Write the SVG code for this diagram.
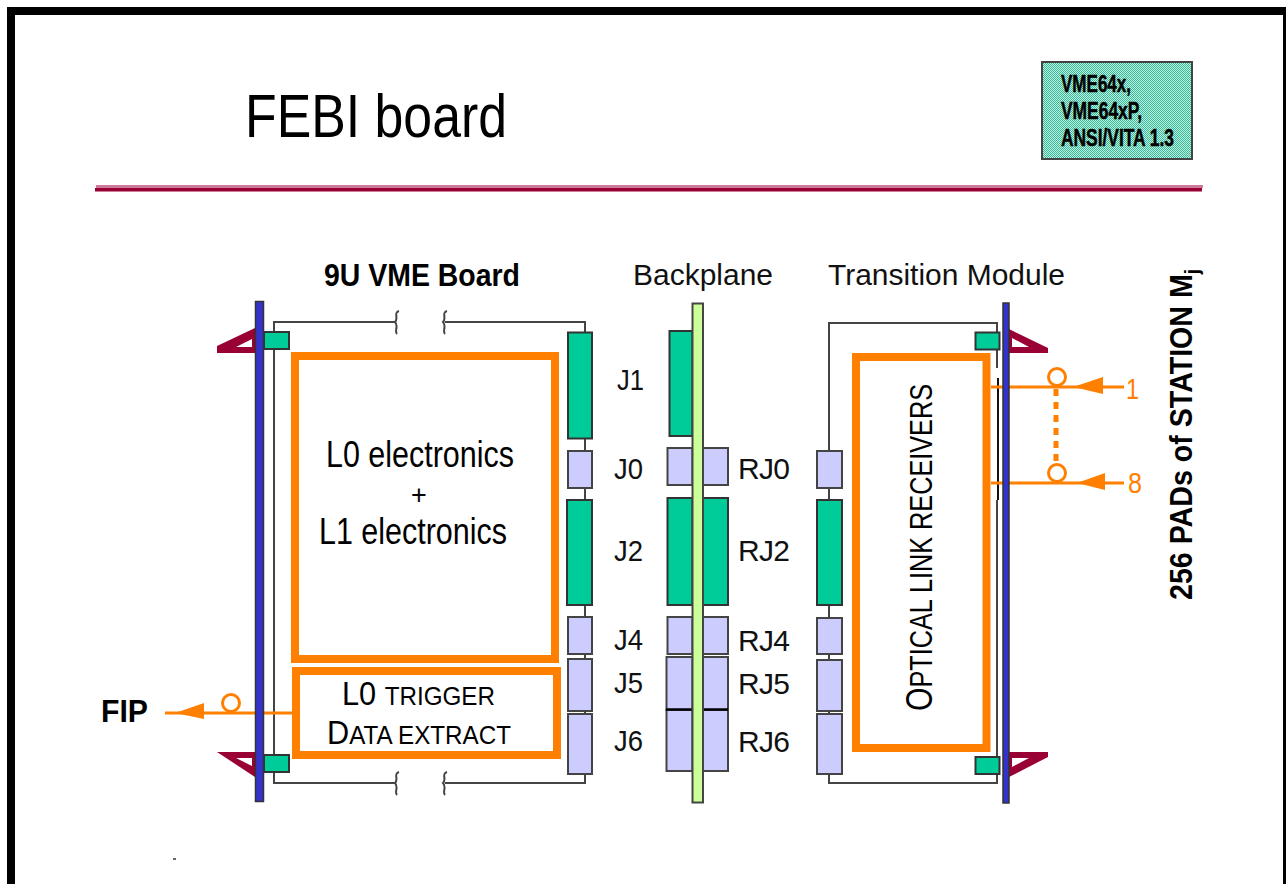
<svg xmlns="http://www.w3.org/2000/svg" width="1286" height="884" viewBox="0 0 1286 884">
<style>
.t{font-family:"Liberation Sans",Arial,sans-serif;fill:#000}
.c{fill:#00cc99;stroke:#333;stroke-width:2}
.l{fill:#ccccff;stroke:#444;stroke-width:2}
.w{fill:none;stroke:#444;stroke-width:2}
.o{fill:none;stroke:#ff8000;stroke-width:8}
.ol{fill:none;stroke:#ff8000;stroke-width:3}
.af{fill:#ff8000}
.bar{fill:#3333cc;stroke:#333;stroke-width:1.5}
.tri{fill:#990033}
.big{font-size:36px}
.cl{font-size:30px;fill:#111}
.h{font-size:29px}
.b{font-weight:bold}
.hv{stroke:#000;stroke-width:.5}
</style>
<defs>
<pattern id="hatch" width="2" height="2" patternUnits="userSpaceOnUse"><rect width="2" height="2" fill="#c4eee2"/><rect width="1" height="1" fill="#33bb99"/><rect x="1" y="1" width="1" height="1" fill="#33bb99"/></pattern>
</defs>
<rect width="1286" height="884" fill="#fff"/>
<g id="frame"><path d="M11 884V11H1286" fill="none" stroke="#000" stroke-width="8"/><rect x="1283" y="11" width="3" height="873" fill="#000"/></g>
<g id="title"><text class="t" x="245" y="137" font-size="62" textLength="262" lengthAdjust="spacingAndGlyphs">FEBI board</text></g>
<g id="standard-box">
<rect x="1042" y="62" width="150" height="97" fill="url(#hatch)" stroke="#444" stroke-width="2"/>
<text class="t b hv" x="1061" y="92" font-size="24" textLength="70" lengthAdjust="spacingAndGlyphs">VME64x,</text>
<text class="t b hv" x="1061" y="119" font-size="24" textLength="81" lengthAdjust="spacingAndGlyphs">VME64xP,</text>
<text class="t b hv" x="1061" y="146" font-size="24" textLength="113" lengthAdjust="spacingAndGlyphs">ANSI/VITA 1.3</text>
</g>
<g id="rule"><rect x="96" y="185" width="1107" height="3" fill="#cc7a99"/><rect x="95" y="188" width="1107" height="3.500" fill="#990033"/></g>
<g id="headers">
<text class="t b" x="324" y="286" font-size="32" textLength="196" lengthAdjust="spacingAndGlyphs">9U VME Board</text>
<text class="t h" x="633" y="285" textLength="140" lengthAdjust="spacingAndGlyphs" style="fill:#111">Backplane</text>
<text class="t h" x="828" y="285" textLength="237" lengthAdjust="spacingAndGlyphs" style="fill:#111">Transition Module</text>
<text class="t b" transform="translate(1192,600) rotate(-90)" font-size="32" textLength="331" lengthAdjust="spacingAndGlyphs">256 PADs of STATION M<tspan font-size="21" dy="7">j</tspan></text>
</g>
<g id="connectors">
<path class="w" d="M585 332V322H445M395 322H274V783H395M445 783H585V774M585 439V451M585 488V500M585 605V617M585 654V659M585 711V714"/>
<path class="w" stroke-width="1.500" d="M399 311C393 313 399 318 395 322C399 326 394 331 397 334M447 311C441 313 447 318 443 322C447 326 442 331 445 334M399 772C393 774 399 779 395 783C399 787 394 792 397 795M447 772C441 774 447 779 443 783C447 787 442 792 445 795"/>
<path class="w" d="M829 451V323H997V368M997 500V783H829V774M829 488V500M829 605V618M829 654V660M829 711V714"/>
<path d="M998 378V500" fill="none" stroke="#111" stroke-width="2"/>
<g id="fip-link"><path class="ol" d="M292 713H165"/><path class="af" d="M175 713L204 703V719Z"/><circle class="ol" cx="231" cy="703" r="8.500"/></g>
<g id="in-1"><path class="ol" d="M991 387H1124"/><path class="af" d="M1073 387L1103 377V394Z"/><circle class="ol" cx="1057" cy="377" r="8.500"/></g>
<g id="in-8"><path class="ol" d="M991 483H1124"/><path class="af" d="M1077 483L1105 473V490Z"/><circle class="ol" cx="1057" cy="473" r="8.500"/></g>
<path d="M1056 389V462" fill="none" stroke="#ff8000" stroke-width="5" stroke-dasharray="7 6"/>
</g>
<g id="vme-board">
<path class="tri" fill-rule="evenodd" d="M217 346L255 328V353H217ZM236 347H252V339Z"/>
<path class="tri" fill-rule="evenodd" d="M217 752H255V777ZM236 758L252 766V758Z"/>
<rect class="bar" x="255.500" y="301.500" width="8" height="500"/>
<rect class="c" x="264" y="332" width="25" height="17"/>
<rect class="c" x="264" y="755" width="25" height="17"/>
<rect class="c" x="568" y="332.500" width="24" height="106"/>
<rect class="l" x="568" y="451" width="24" height="37"/>
<rect class="c" x="567" y="500" width="25" height="105"/>
<rect class="l" x="568" y="617" width="24" height="37"/>
<rect class="l" x="568" y="659" width="24" height="52"/>
<rect class="l" x="568" y="714" width="24" height="60"/>
</g>
<g id="backplane">
<rect class="c" x="669.500" y="331" width="23" height="105"/>
<rect class="l" x="667.500" y="448" width="25" height="37"/>
<rect class="l" x="703" y="448" width="25" height="37"/>
<rect class="c" x="667.500" y="498" width="25" height="107"/>
<rect class="c" x="703" y="498" width="25" height="107"/>
<rect class="l" x="667.500" y="617" width="25" height="37"/>
<rect class="l" x="703" y="617" width="25" height="37"/>
<rect class="l" x="666.500" y="657" width="26" height="53"/>
<rect class="l" x="703" y="657" width="25" height="53"/>
<rect class="l" x="666.500" y="710" width="26" height="61"/>
<rect class="l" x="703" y="710" width="25" height="61"/>
<path d="M666 709.500H692M703 709.500H728" stroke="#000" stroke-width="2.500"/>
<rect x="692.500" y="303.500" width="10.500" height="499" fill="#ccff99" stroke="#444" stroke-width="2"/>
</g>
<g id="transition-module">
<path class="tri" fill-rule="evenodd" d="M1009 329L1048 348V353H1009ZM1012 338V347H1029Z"/>
<path class="tri" fill-rule="evenodd" d="M1009 752H1048V757L1009 777ZM1012 758V767L1029 758Z"/>
<rect class="bar" x="1003" y="303" width="6" height="500"/>
<rect class="c" x="975.500" y="332.500" width="24" height="17"/>
<rect class="c" x="975.500" y="757" width="24" height="17"/>
<rect class="l" x="817" y="451" width="25" height="37"/>
<rect class="c" x="817" y="500" width="25" height="105"/>
<rect class="l" x="817" y="618" width="25" height="36"/>
<rect class="l" x="817" y="660" width="25" height="51"/>
<rect class="l" x="817" y="714" width="25" height="60"/>
</g>
<g id="l0-l1-electronics">
<rect class="o" x="295" y="356" width="260" height="303"/>
<text class="t big" x="420" y="467" text-anchor="middle" textLength="188" lengthAdjust="spacingAndGlyphs">L0 electronics</text>
<text class="t" x="419" y="504" text-anchor="middle" font-size="27">+</text>
<text class="t big" x="413" y="544" text-anchor="middle" textLength="188" lengthAdjust="spacingAndGlyphs">L1 electronics</text>
</g>
<g id="l0-trigger">
<rect class="o" x="296" y="671" width="261" height="84"/>
<text class="t" x="342" y="705" font-size="33" textLength="153" lengthAdjust="spacingAndGlyphs">L0 <tspan font-size="26">TRIGGER</tspan></text>
<text class="t" x="327" y="744" font-size="33" textLength="184" lengthAdjust="spacingAndGlyphs">D<tspan font-size="26">ATA EXTRACT</tspan></text>
</g>
<g id="optical-receivers">
<rect class="o" x="856" y="357" width="130.500" height="391"/>
<text class="t" transform="translate(932,711) rotate(-90)" font-size="37" textLength="327" lengthAdjust="spacingAndGlyphs">O<tspan font-size="31">PTICAL LINK RECEIVERS</tspan></text>
</g>
<g id="labels">
<text class="t b" x="101" y="722" font-size="32" textLength="47" lengthAdjust="spacingAndGlyphs">FIP</text>
<text class="t" x="1126" y="399" font-size="30" style="fill:#ff8000" textLength="13" lengthAdjust="spacingAndGlyphs">1</text>
<text class="t" x="1128" y="493" font-size="29" style="fill:#ff8000" textLength="14" lengthAdjust="spacingAndGlyphs">8</text>
<text class="t cl" x="617" y="390" textLength="27" lengthAdjust="spacingAndGlyphs">J1</text>
<text class="t cl" x="614" y="479" textLength="29" lengthAdjust="spacingAndGlyphs">J0</text>
<text class="t cl" x="614" y="561" textLength="29" lengthAdjust="spacingAndGlyphs">J2</text>
<text class="t cl" x="614" y="650" textLength="29" lengthAdjust="spacingAndGlyphs">J4</text>
<text class="t cl" x="614" y="693" textLength="29" lengthAdjust="spacingAndGlyphs">J5</text>
<text class="t cl" x="614" y="751" textLength="29" lengthAdjust="spacingAndGlyphs">J6</text>
<text class="t cl" x="738" y="479" textLength="52">RJ0</text>
<text class="t cl" x="738" y="561" textLength="52">RJ2</text>
<text class="t cl" x="738" y="651" textLength="52">RJ4</text>
<text class="t cl" x="738" y="694" textLength="52">RJ5</text>
<text class="t cl" x="738" y="752" textLength="52">RJ6</text>
</g>
<rect id="speck" x="173" y="858" width="3" height="2" fill="#666"/>
</svg>
